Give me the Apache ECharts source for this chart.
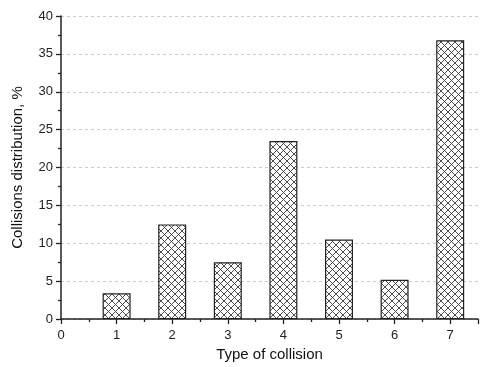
<!DOCTYPE html>
<html>
<head>
<meta charset="utf-8">
<script src="https://cdn.jsdelivr.net/npm/echarts@6/dist/echarts.min.js"></script>
<style>html,body{margin:0;padding:0;background:#fff}#c{width:481px;height:367px}</style>
</head>
<body>
<div id="c"></div>
<script>
const collisionTypes = [1, 2, 3, 4, 5, 6, 7];
const distribution = [3.4, 12.5, 7.5, 23.5, 10.5, 5.2, 36.8];
const xTitle = 'Type of collision';
const yTitle = 'Collisions distribution, %';

function hatch() {
  const s = 7;
  const c = document.createElement('canvas');
  c.width = s; c.height = s;
  const g = c.getContext('2d');
  g.fillStyle = '#fff';
  g.fillRect(0, 0, s, s);
  g.strokeStyle = '#3a3a3a';
  g.lineWidth = 0.9;
  g.beginPath();
  g.moveTo(0, 0); g.lineTo(s, s);
  g.moveTo(s, 0); g.lineTo(0, s);
  g.stroke();
  return c;
}

const chart = echarts.init(document.getElementById('c'), null, {renderer: 'canvas'});
const font = 'Liberation Sans, Arial, sans-serif';
chart.setOption({
  animation: false,
  grid: {left: 61, right: 3, top: 16, bottom: 46, containLabel: false},
  xAxis: {
    type: 'value', min: 0, max: 7.5, interval: 1,
    name: xTitle, nameLocation: 'middle', nameGap: 27,
    nameTextStyle: {fontFamily: font, fontSize: 15, color: '#111'},
    axisLine: {show: true, lineStyle: {color: '#222', width: 1.5}},
    axisTick: {show: true, inside: false, length: 5, lineStyle: {color: '#222', width: 1.3}},
    minorTick: {show: true, splitNumber: 2, length: 3, lineStyle: {color: '#222', width: 1.3}},
    axisLabel: {fontFamily: font, fontSize: 13, color: '#222', margin: 10,
      formatter: v => (Number.isInteger(v) ? String(v) : '')},
    splitLine: {show: false}
  },
  yAxis: {
    type: 'value', min: 0, max: 40, interval: 5,
    name: yTitle, nameLocation: 'middle', nameGap: 36, nameRotate: 90,
    nameTextStyle: {fontFamily: font, fontSize: 15, color: '#111'},
    axisLine: {show: true, lineStyle: {color: '#222', width: 1.5}},
    axisTick: {show: true, inside: false, length: 5, lineStyle: {color: '#222', width: 1.3}},
    minorTick: {show: true, splitNumber: 2, length: 3, lineStyle: {color: '#222', width: 1.3}},
    axisLabel: {fontFamily: font, fontSize: 13, color: '#222', margin: 8},
    splitLine: {show: true, lineStyle: {color: '#ccc', type: [3, 3], width: 1}}
  },
  series: [{
    type: 'bar',
    data: collisionTypes.map((t, i) => [t, distribution[i]]),
    barWidth: 28,
    itemStyle: {
      color: {image: hatch(), repeat: 'repeat'},
      borderColor: '#222', borderWidth: 1.2
    }
  }]
});
</script>
</body>
</html>
